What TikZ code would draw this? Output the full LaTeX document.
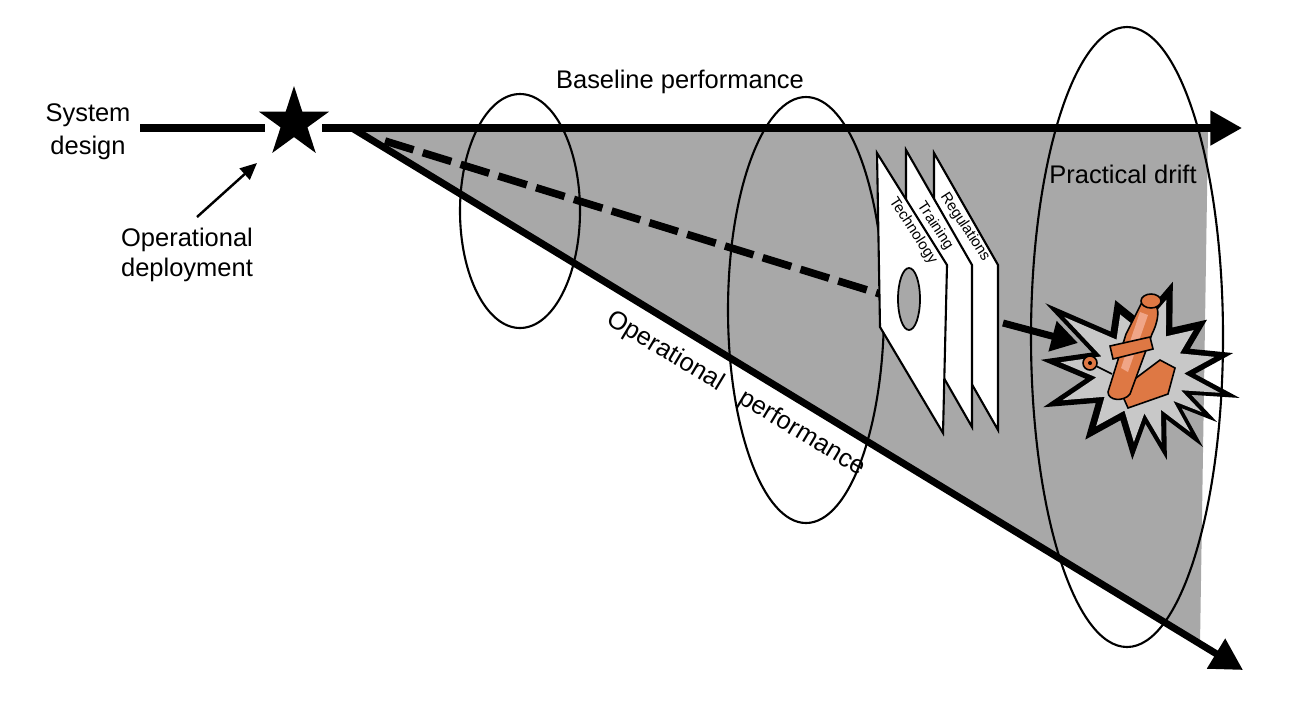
\documentclass[tikz,border=0pt]{standalone}
\usepackage{fontspec}
\setmainfont{Liberation Sans}
\usepackage{tikz}
\usetikzlibrary{arrows.meta,calc}
\definecolor{driftgray}{RGB}{168,168,168}
\definecolor{blastgray}{RGB}{200,200,200}
\definecolor{planeorange}{RGB}{222,120,68}
\definecolor{planelight}{RGB}{240,165,135}
\tikzset{
  mainline/.style={line width=4pt},
  bigtip/.style={-{Triangle[length=18pt,width=19pt]}},
  ring/.style={line width=1.2pt},
  plate/.style={fill=white,draw=black,line width=1.2pt},
  platetext/.style={rotate=-57,font=\fontsize{8.5}{10}\selectfont},
}
\def\blastpts{-173/100,-158/52,-144/117,-126/50,-109/76,-90/52,-70/96,-54/55,-38/85,-25/55,-11.5/95,2/55,14.6/103,24/56,33/92,41/55,50/98,61/54,73/92,84/52,95/88,112/52,129/87,145/54,160/103,173/55}

\begin{document}
\begin{tikzpicture}[x=0.02cm,y=-0.02cm,font=\fontsize{14.5}{17}\selectfont]
        \useasboundingbox (0,0) rectangle (1308,708);
        \coordinate (apex) at (352,128);
        \coordinate (basetip) at (1242,128);
        \coordinate (optip) at (1243,670);
        \coordinate (star) at (294,123);
        \coordinate (blast) at (1140,372);

        \fill[driftgray] (apex) -- (1208,131) -- (1200,644) -- cycle;

        \draw[ring] (520,211) ellipse[x radius=60, y radius=117];
        \draw[ring] (806,310) ellipse[x radius=78, y radius=213];
        \draw[ring] (1127,337) ellipse[x radius=96, y radius=310];

        \draw[mainline] (140,128) -- (265,128);
        \draw[mainline, bigtip] (322,128) -- (basetip);
        \draw[mainline, bigtip] (apex) -- (optip);
        \draw[line width=4.3pt, dash pattern=on 17pt off 5.5pt] (385,141) -- (890,297);

        \draw[plate] (934,153) -- (998,265) -- (998,430) -- (934,318) -- cycle;
        \draw[plate] (906,150) -- (972,265) -- (972,427) -- (906,312) -- cycle;
        \draw[plate] (877,153) -- (947,265) -- (943,433) -- (880,327) -- cycle;
        \filldraw[fill=driftgray, line width=1pt] (909,299) ellipse[x radius=11, y radius=31];
        \node[platetext] (regul) at (965,227) {Regulations};
        \node[platetext] (train) at (935,226) {Training};
        \node[platetext] (techn) at (913,231) {Technology};

        \fill[black] ($(blast)+(-173:100)$) \foreach \a/\r in \blastpts { -- ($(blast)+(\a:\r)$) } -- cycle;
        \fill[blastgray] ($(blast)+(-173:80)$) \foreach \a/\r in \blastpts { -- ($(blast)+(\a:{0.8*\r})$) } -- cycle;

        \begin{scope}[line width=0.9pt]
        \filldraw[fill=planeorange] (1120,390) -- (1160,360) -- (1175,368) -- (1168,394) -- (1128,408) -- cycle;
        \filldraw[fill=planeorange] (1143,300) .. controls (1162,298) and (1160,318) .. (1152,334) -- (1130,394) .. controls (1124,402) and (1108,401) .. (1108,392) -- (1126,334) -- cycle;
        \fill[planelight] (1140,312) -- (1148,315) -- (1128,372) -- (1121,368) -- cycle;
        \filldraw[fill=planeorange] (1110,346) -- (1150,337) -- (1153,349) -- (1113,359) -- cycle;
        \filldraw[fill=planeorange] (1151,301) ellipse[x radius=10, y radius=7];
        \draw (1090,363) -- (1112,374);
        \filldraw[fill=planeorange] (1090,363) circle[radius=7];
        \fill[black] (1090,363) circle[radius=2];
        \end{scope}

        \draw[mainline, -{Triangle[length=15pt,width=17pt]}] (1003,323) -- (1078,343);

        \node[align=center] (sysdesign) at (88,132) {System\\[2pt]design};
        \node[align=center] (opdep) at (187,255) {Operational\\deployment};
        \node (baseline) at (680,82) {Baseline performance};
        \node (drift) at (1123,174) {Practical drift};
        \node[rotate=-31] (opperf) at (736,394) {Operational\hspace{12.5pt}performance};

        \fill[black] (star) ++(270:37) \foreach \a/\r in {306/14.1,342/37,18/14.1,54/37,90/14.1,126/37,162/14.1,198/37,234/14.1} { -- ($(star)+(\a:\r)$) } -- cycle;
        \coordinate (deptail) at (197,217);
        \coordinate (deptip) at (257,163);
        \draw[line width=1.4pt, -{Triangle[length=9.5pt,width=8.5pt]}] (deptail) -- (deptip);
    \end{tikzpicture}
\end{document}
